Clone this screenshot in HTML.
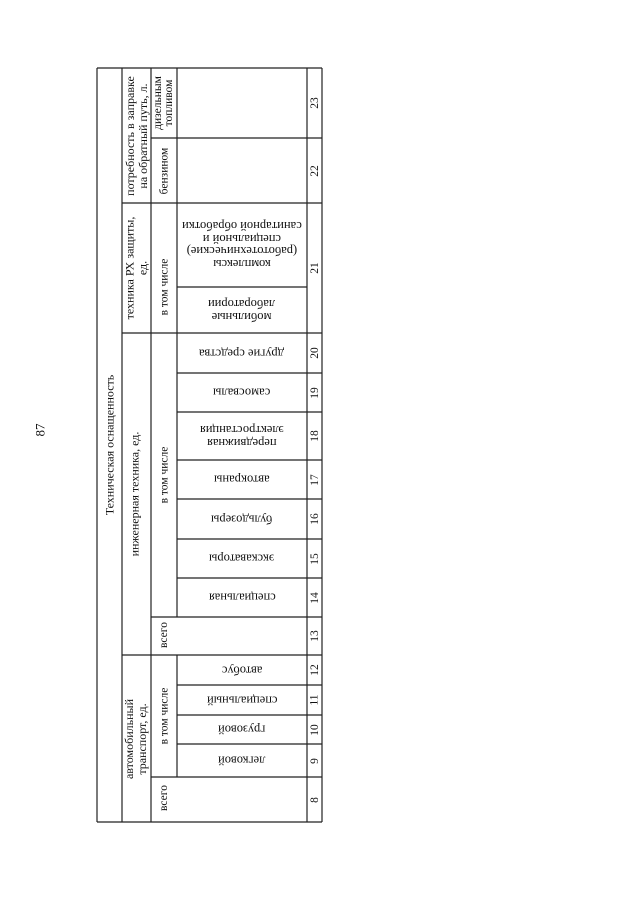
<!DOCTYPE html>
<html><head><meta charset="utf-8"><style>
body{margin:0;width:640px;height:905px;background:#fff;position:relative;overflow:hidden;font-family:"Liberation Serif",serif;color:#111}
.c{position:absolute;display:flex;align-items:center;justify-content:center;text-align:center}
.c span{display:inline-block;white-space:nowrap;font-size:11.5px;line-height:12px}
.r span{transform:rotate(-90deg)}
.u span{transform:rotate(180deg);font-size:12.5px;line-height:12.5px}
svg{position:absolute;left:0;top:0}
</style></head><body>
<svg width="640" height="905" stroke="#222" stroke-width="1.2">
<line x1="97" y1="68" x2="97" y2="822"/><line x1="122" y1="68" x2="122" y2="822"/>
<line x1="151" y1="68" x2="151" y2="822"/>
<line x1="177" y1="68" x2="177" y2="617"/><line x1="177" y1="655" x2="177" y2="777"/>
<line x1="307" y1="68" x2="307" y2="822"/><line x1="322" y1="68" x2="322" y2="822"/>
<line x1="97" y1="68" x2="322" y2="68"/><line x1="97" y1="822" x2="322" y2="822"/>
<line x1="122" y1="203" x2="322" y2="203"/><line x1="122" y1="333" x2="322" y2="333"/><line x1="122" y1="655" x2="322" y2="655"/>
<line x1="151" y1="138" x2="322" y2="138"/><line x1="177" y1="287" x2="307" y2="287"/>
<line x1="177" y1="373" x2="322" y2="373"/><line x1="177" y1="412" x2="322" y2="412"/><line x1="177" y1="460" x2="322" y2="460"/>
<line x1="177" y1="499" x2="322" y2="499"/><line x1="177" y1="539" x2="322" y2="539"/><line x1="177" y1="578" x2="322" y2="578"/>
<line x1="151" y1="617" x2="322" y2="617"/><line x1="177" y1="685" x2="322" y2="685"/><line x1="177" y1="715" x2="322" y2="715"/>
<line x1="177" y1="744" x2="322" y2="744"/><line x1="151" y1="777" x2="322" y2="777"/>
</svg>

<div class="c r" style="left:25px;top:415px;width:30px;height:30px"><span style="font-size:13px">87</span></div>

<div class="c r" style="left:97px;top:68px;width:25px;height:754px"><span style="font-size:12px">Техническая оснащенность</span></div>

<div class="c r" style="left:122px;top:68px;width:29px;height:135px"><span style="font-size:12px;line-height:13px">потребность в заправке<br>на обратный путь, л.</span></div>
<div class="c r" style="left:122px;top:203px;width:29px;height:130px"><span style="font-size:12px;line-height:13px">техника РХ защиты,<br>ед.</span></div>
<div class="c r" style="left:122px;top:333px;width:24px;height:322px"><span style="font-size:12px">инженерная техника, ед.</span></div>
<div class="c r" style="left:122px;top:655px;width:29px;height:167px"><span style="font-size:12px;line-height:13px">автомобильный<br>транспорт, ед.</span></div>

<div class="c r" style="left:151px;top:68px;width:26px;height:70px"><span style="line-height:11px">дизельным<br>топливом</span></div>
<div class="c r" style="left:151px;top:138px;width:26px;height:65px"><span>бензином</span></div>
<div class="c r" style="left:151px;top:240px;width:26px;height:93px"><span>в том числе</span></div>
<div class="c r" style="left:151px;top:333px;width:26px;height:284px"><span>в том числе</span></div>
<div class="c r" style="left:151px;top:617px;width:26px;height:36px"><span>всего</span></div>
<div class="c r" style="left:151px;top:655px;width:26px;height:122px"><span>в том числе</span></div>
<div class="c r" style="left:151px;top:777px;width:26px;height:42px"><span>всего</span></div>

<div class="c u" style="left:177px;top:203px;width:130px;height:84px"><span>комплексы<br>(работотехнические)<br>специальной и<br>санитарной обработки</span></div>
<div class="c u" style="left:177px;top:287px;width:130px;height:46px"><span>мобильные<br>лаборатории</span></div>
<div class="c u" style="left:177px;top:333px;width:130px;height:40px"><span>другие средства</span></div>
<div class="c u" style="left:177px;top:373px;width:130px;height:39px"><span>самосвалы</span></div>
<div class="c u" style="left:177px;top:412px;width:130px;height:48px"><span>передвижная<br>электростанция</span></div>
<div class="c u" style="left:177px;top:460px;width:130px;height:39px"><span>автокраны</span></div>
<div class="c u" style="left:177px;top:499px;width:130px;height:40px"><span>бульдозеры</span></div>
<div class="c u" style="left:177px;top:539px;width:130px;height:39px"><span>экскаваторы</span></div>
<div class="c u" style="left:177px;top:578px;width:130px;height:39px"><span>специальная</span></div>
<div class="c u" style="left:177px;top:655px;width:130px;height:30px"><span>автобус</span></div>
<div class="c u" style="left:177px;top:685px;width:130px;height:30px"><span>специальный</span></div>
<div class="c u" style="left:177px;top:715px;width:130px;height:29px"><span>грузовой</span></div>
<div class="c u" style="left:177px;top:744px;width:130px;height:33px"><span>легковой</span></div>

<div class="c r" style="left:307px;top:68px;width:15px;height:70px"><span>23</span></div>
<div class="c r" style="left:307px;top:138px;width:15px;height:65px"><span>22</span></div>
<div class="c r" style="left:307px;top:203px;width:15px;height:130px"><span>21</span></div>
<div class="c r" style="left:307px;top:333px;width:15px;height:40px"><span>20</span></div>
<div class="c r" style="left:307px;top:373px;width:15px;height:39px"><span>19</span></div>
<div class="c r" style="left:307px;top:412px;width:15px;height:48px"><span>18</span></div>
<div class="c r" style="left:307px;top:460px;width:15px;height:39px"><span>17</span></div>
<div class="c r" style="left:307px;top:499px;width:15px;height:40px"><span>16</span></div>
<div class="c r" style="left:307px;top:539px;width:15px;height:39px"><span>15</span></div>
<div class="c r" style="left:307px;top:578px;width:15px;height:39px"><span>14</span></div>
<div class="c r" style="left:307px;top:617px;width:15px;height:38px"><span>13</span></div>
<div class="c r" style="left:307px;top:655px;width:15px;height:30px"><span>12</span></div>
<div class="c r" style="left:307px;top:685px;width:15px;height:30px"><span>11</span></div>
<div class="c r" style="left:307px;top:715px;width:15px;height:29px"><span>10</span></div>
<div class="c r" style="left:307px;top:744px;width:15px;height:33px"><span>9</span></div>
<div class="c r" style="left:307px;top:777px;width:15px;height:45px"><span>8</span></div>
</body></html>
